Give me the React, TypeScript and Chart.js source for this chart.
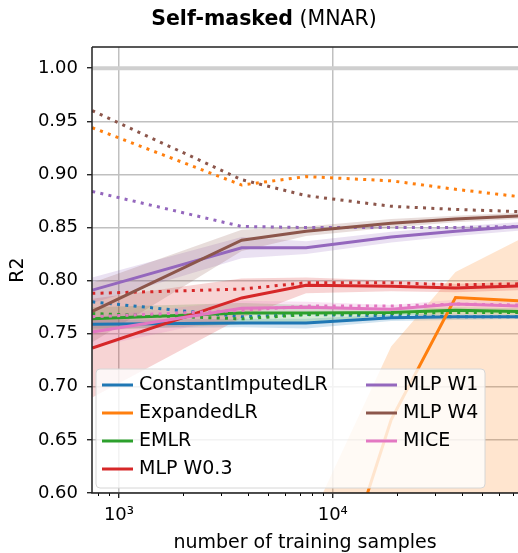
import React, { useEffect, useRef } from "react";
import { Chart, registerables } from "chart.js";

Chart.register(...registerables);

// ---------- data ----------
const samples = [750, 3750, 7500, 18750, 37500, 75000];

const methodNames = ["ConstantImputedLR", "ExpandedLR", "EMLR", "MLP W0.3", "MLP W1", "MLP W4", "MICE"];
const methodColors = ["#1f77b4", "#ff7f0e", "#2ca02c", "#d62728", "#9467bd", "#8c564b", "#e377c2"];

// solid lines (mean R2)
const constantImputedLR = [0.759, 0.760, 0.760, 0.765, 0.766, 0.766];
const expandedLR = [0.05, 0.25, 0.42, 0.669, 0.784, 0.781];
const emLR = [0.764, 0.7695, 0.7695, 0.770, 0.772, 0.771];
const mlpW03 = [0.7365, 0.7837, 0.7956, 0.7947, 0.793, 0.795];
const mlpW1 = [0.791, 0.831, 0.831, 0.841, 0.8465, 0.851];
const mlpW4 = [0.771, 0.838, 0.8465, 0.854, 0.858, 0.861];
const mice = [0.7516, 0.774, 0.775, 0.773, 0.778, 0.776];

// confidence band bounds
const constantImputedLRLow = [0.755, 0.756, 0.755, 0.762, 0.763, 0.764];
const constantImputedLRHigh = [0.763, 0.764, 0.764, 0.768, 0.769, 0.768];
const expandedLRLow = [-1.0, -0.6, 0.27, 0.45, 0.55, 0.55];
const expandedLRHigh = [0.1, 0.4, 0.566, 0.738, 0.808, 0.839];
const emLRLow = [0.753, 0.759, 0.761, 0.767, 0.769, 0.768];
const emLRHigh = [0.775, 0.779, 0.777, 0.773, 0.775, 0.774];
const mlpW03Low = [0.69, 0.765, 0.788, 0.790, 0.789, 0.791];
const mlpW03High = [0.783, 0.802, 0.803, 0.800, 0.797, 0.799];
const mlpW1Low = [0.779, 0.821, 0.825, 0.836, 0.842, 0.847];
const mlpW1High = [0.803, 0.841, 0.837, 0.846, 0.851, 0.855];
const mlpW4Low = [0.742, 0.828, 0.842, 0.850, 0.855, 0.858];
const mlpW4High = [0.798, 0.848, 0.851, 0.858, 0.861, 0.864];
const miceLow = [0.737, 0.767, 0.770, 0.769, 0.774, 0.772];
const miceHigh = [0.766, 0.781, 0.780, 0.777, 0.782, 0.780];

// dotted lines
const constantImputedLRDotted = [0.780, 0.766, 0.768, 0.767, 0.766, 0.766];
const expandedLRDotted = [0.944, 0.890, 0.898, 0.894, 0.886, 0.879];
const emLRDotted = [0.769, 0.764, 0.768, 0.769, 0.770, 0.770];
const mlpW03Dotted = [0.788, 0.792, 0.798, 0.798, 0.796, 0.797];
const mlpW1Dotted = [0.884, 0.851, 0.850, 0.850, 0.850, 0.851];
const mlpW4Dotted = [0.960, 0.895, 0.880, 0.870, 0.867, 0.865];
const miceDotted = [0.766, 0.772, 0.776, 0.776, 0.778, 0.777];

const bayesRate = [1.0, 1.0, 1.0, 1.0, 1.0, 1.0];

const xTickValues = [1000, 10000];
const xTickLabels = ["10\u00b3", "10\u2074"];
const xMinorTickValues = [800, 900, 2000, 3000, 4000, 5000, 6000, 7000, 8000, 9000, 20000, 30000, 40000, 50000, 60000, 70000];
const yTickValues = [0.6, 0.65, 0.7, 0.75, 0.8, 0.85, 0.9, 0.95, 1.0];

const titleBold = "Self-masked";
const titleRegular = " (MNAR)";
const xTitle = "number of training samples";
const yTitle = "R2";

const FONT = "'DejaVu Sans', sans-serif";

function rgba(hex: string, a: number) {
  const n = parseInt(hex.slice(1), 16);
  return `rgba(${(n >> 16) & 255},${(n >> 8) & 255},${n & 255},${a})`;
}

const means = [constantImputedLR, expandedLR, emLR, mlpW03, mlpW1, mlpW4, mice];
const lows = [constantImputedLRLow, expandedLRLow, emLRLow, mlpW03Low, mlpW1Low, mlpW4Low, miceLow];
const highs = [constantImputedLRHigh, expandedLRHigh, emLRHigh, mlpW03High, mlpW1High, mlpW4High, miceHigh];
const dotted = [constantImputedLRDotted, expandedLRDotted, emLRDotted, mlpW03Dotted, mlpW1Dotted, mlpW4Dotted, miceDotted];

const pts = (arr: number[]) => samples.map((x, i) => ({ x, y: arr[i] }));

function buildDatasets() {
  const ds: any[] = [];
  const base = { pointRadius: 0, pointHoverRadius: 0, tension: 0 };
  ds.push({ ...base, label: "_bayes", data: pts(bayesRate), borderColor: "#cfcfcf", borderWidth: 4, fill: false });
  for (let m = 0; m < methodNames.length; m++) {
    const c = methodColors[m];
    ds.push({ ...base, label: "_lo" + m, data: pts(lows[m]), borderWidth: 0, borderColor: "transparent", fill: false });
    ds.push({ ...base, label: "_hi" + m, data: pts(highs[m]), borderWidth: 0, borderColor: "transparent", backgroundColor: rgba(c, 0.2), fill: "-1" });
  }
  for (let m = 0; m < methodNames.length; m++) {
    const c = methodColors[m];
    ds.push({ ...base, label: methodNames[m], data: pts(means[m]), borderColor: c, borderWidth: 3, fill: false, borderCapStyle: "butt" });
    ds.push({ ...base, label: "_dot" + m, data: pts(dotted[m]), borderColor: c, borderWidth: 3, borderDash: [3, 5.3], borderCapStyle: "butt", fill: false });
  }
  ds.forEach((d, i) => (d.order = -i));
  return ds;
}

const decorPlugin = {
  id: "decor",
  afterDatasetsDraw(chart: any) {
    const { ctx, chartArea: ca, scales } = chart;
    ctx.save();
    // minor x ticks
    ctx.strokeStyle = "#000";
    ctx.lineWidth = 1;
    for (const v of xMinorTickValues) {
      const px = scales.x.getPixelForValue(v);
      if (px < ca.left || px > ca.right) continue;
      ctx.beginPath();
      ctx.moveTo(Math.round(px) + 0.5, ca.bottom);
      ctx.lineTo(Math.round(px) + 0.5, ca.bottom + 3);
      ctx.stroke();
    }
    // spines
    ctx.strokeStyle = "#222";
    ctx.lineWidth = 1.5;
    ctx.beginPath();
    ctx.moveTo(ca.left, ca.top);
    ctx.lineTo(ca.right, ca.top);
    ctx.moveTo(ca.left, ca.top);
    ctx.lineTo(ca.left, ca.bottom);
    ctx.lineTo(ca.right, ca.bottom);
    ctx.stroke();

    // legend
    const x0 = ca.left + 4, y0 = ca.bottom - 124, w = 389, h = 119, r = 4;
    ctx.beginPath();
    ctx.moveTo(x0 + r, y0);
    ctx.lineTo(x0 + w - r, y0);
    ctx.quadraticCurveTo(x0 + w, y0, x0 + w, y0 + r);
    ctx.lineTo(x0 + w, y0 + h - r);
    ctx.quadraticCurveTo(x0 + w, y0 + h, x0 + w - r, y0 + h);
    ctx.lineTo(x0 + r, y0 + h);
    ctx.quadraticCurveTo(x0, y0 + h, x0, y0 + h - r);
    ctx.lineTo(x0, y0 + r);
    ctx.quadraticCurveTo(x0, y0, x0 + r, y0);
    ctx.closePath();
    ctx.fillStyle = "rgba(255,255,255,0.8)";
    ctx.fill();
    ctx.strokeStyle = "#d6d6d6";
    ctx.lineWidth = 1;
    ctx.stroke();

    ctx.font = `19px ${FONT}`;
    ctx.textBaseline = "middle";
    ctx.textAlign = "left";
    for (let m = 0; m < methodNames.length; m++) {
      const col = m < 4 ? 0 : 1;
      const row = m < 4 ? m : m - 4;
      const hx = col === 0 ? x0 + 6 : x0 + 270;
      const cy = y0 + 16 + row * 28;
      ctx.strokeStyle = methodColors[m];
      ctx.lineWidth = 3;
      ctx.lineCap = "butt";
      ctx.beginPath();
      ctx.moveTo(hx, cy);
      ctx.lineTo(hx + 31, cy);
      ctx.stroke();
      ctx.fillStyle = "#000";
      ctx.fillText(methodNames[m], hx + 37, cy);
    }

    // title
    ctx.textBaseline = "alphabetic";
    ctx.font = `bold 20.5px ${FONT}`;
    const wb = ctx.measureText(titleBold).width;
    ctx.font = `20.5px ${FONT}`;
    const wr = ctx.measureText(titleRegular).width;
    const start = 264 - (wb + wr) / 2;
    ctx.fillStyle = "#000";
    ctx.font = `bold 20.5px ${FONT}`;
    ctx.fillText(titleBold, start, 25);
    ctx.font = `20.5px ${FONT}`;
    ctx.fillText(titleRegular, start + wb, 25);
    ctx.restore();
  },
};

export default function App() {
  const ref = useRef<HTMLCanvasElement | null>(null);
  useEffect(() => {
    if (!ref.current) return;
    const chart = new Chart(ref.current, {
      type: "line",
      data: { datasets: buildDatasets() },
      options: {
        animation: false,
        responsive: false,
        events: [],
        layout: { padding: { top: 47, left: 0, right: 0, bottom: 0 } },
        plugins: {
          legend: { display: false },
          tooltip: { enabled: false },
          title: { display: false },
        },
        scales: {
          x: {
            type: "logarithmic",
            min: 748,
            max: 73500,
            afterBuildTicks: (scale: any) => {
              scale.ticks = xTickValues.map((v) => ({ value: v, major: true }));
            },
            afterFit: (scale: any) => {
              scale.height = 60;
            },
            ticks: {
              autoSkip: false,
              maxRotation: 0,
              minRotation: 0,
              padding: 7,
              color: "#000",
              font: { family: FONT, size: 18 },
              callback: (_v: any, i: number) => xTickLabels[i],
            },
            grid: {
              color: "#c0c0c0",
              lineWidth: 1.5,
              tickColor: "#000",
              tickWidth: 1.2,
              tickLength: 5,
            },
            border: { display: false },
            title: {
              display: true,
              text: xTitle,
              color: "#000",
              font: { family: FONT, size: 19, lineHeight: 1 },
              padding: { top: 0, bottom: 0 },
            },
          },
          y: {
            type: "linear",
            min: 0.6,
            max: 1.02,
            afterBuildTicks: (scale: any) => {
              scale.ticks = yTickValues.map((v) => ({ value: v }));
            },
            afterFit: (scale: any) => {
              scale.width = 92;
            },
            ticks: {
              padding: 9,
              color: "#000",
              font: { family: FONT, size: 18 },
              callback: (v: any) => Number(v).toFixed(2),
            },
            grid: {
              color: "#c0c0c0",
              lineWidth: 1.5,
              tickColor: "#000",
              tickWidth: 1.2,
              tickLength: 5,
            },
            border: { display: false },
            title: {
              display: true,
              text: yTitle,
              color: "#000",
              font: { family: FONT, size: 19 },
              padding: { top: 7, bottom: 0 },
            },
          },
        },
      },
      plugins: [decorPlugin],
    } as any);
    return () => chart.destroy();
  }, []);
  return (
    <div style={{ position: "fixed", left: 0, top: 0, width: 518, height: 553, background: "#fff" }}>
      <canvas ref={ref} width={518} height={553} />
    </div>
  );
}
